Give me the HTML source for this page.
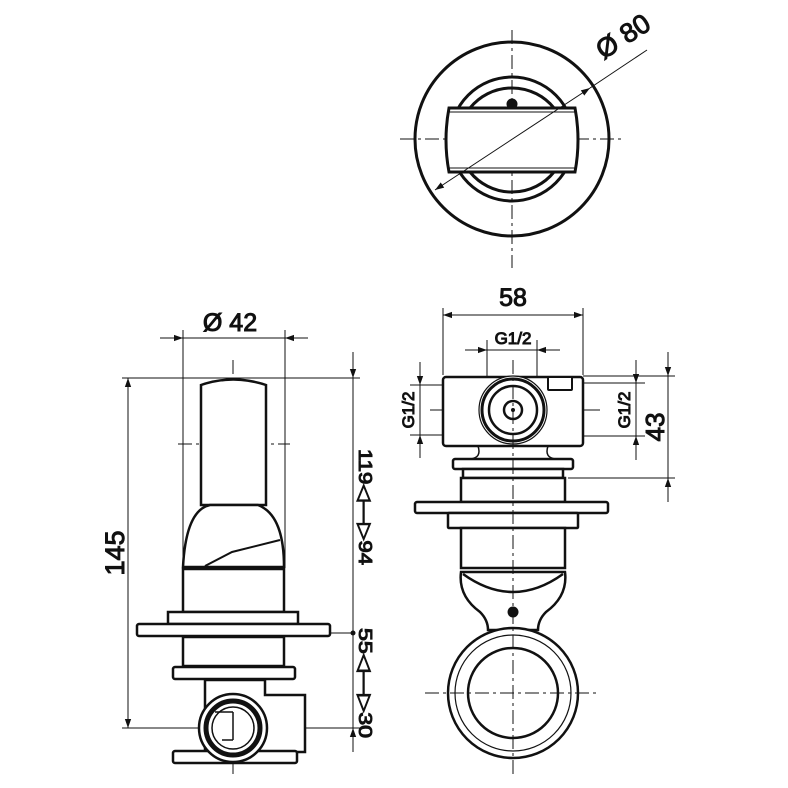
<!DOCTYPE html>
<html><head><meta charset="utf-8"><style>
html,body{margin:0;padding:0;background:#fff}
svg{display:block}
text{font-family:"Liberation Sans",sans-serif;fill:#111;font-weight:normal}
</style></head><body>
<svg width="788" height="788" viewBox="0 0 788 788" xmlns="http://www.w3.org/2000/svg">
<defs>
<marker id="a" viewBox="0 0 10 10" refX="10" refY="5" markerWidth="9" markerHeight="9" orient="auto-start-reverse" markerUnits="userSpaceOnUse"><path d="M0,1.5 L10,5 L0,8.5 z" fill="#111"/></marker>
</defs>
<g fill="none" stroke="#111">
<!-- ===== TOP VIEW ===== -->
<g stroke-width="1" stroke-dasharray="14,4,3,4">
<line x1="512" y1="30" x2="512" y2="268"/>
<line x1="400" y1="139" x2="625" y2="139"/>
</g>
<circle cx="512" cy="139" r="97" stroke-width="3"/>
<circle cx="512" cy="139" r="62" stroke-width="3"/>
<path d="M470,108 A54,54 0 0 1 554,108" stroke-width="3"/>
<path d="M470,172 A54,54 0 0 0 554,172" stroke-width="3"/>
<circle cx="512" cy="104" r="5" fill="#111"/>
<path d="M449,108 L575,108 Q581,140 575,172 L449,172 Q443,140 449,108 Z" fill="#fff" stroke-width="3"/>
<line x1="449" y1="112" x2="575" y2="112" stroke-width="1"/>
<line x1="449" y1="168" x2="575" y2="168" stroke-width="1"/>
<line x1="435" y1="190" x2="590" y2="88" stroke-width="1" marker-start="url(#a)" marker-end="url(#a)"/>
<line x1="590" y1="88" x2="647" y2="50" stroke-width="1"/>
<text x="628" y="44" font-size="27" transform="rotate(-33 628 44)" text-anchor="middle">Ø 80</text>

<!-- ===== LEFT VIEW ===== -->
<g stroke-width="1" stroke-dasharray="14,4,3,4">
<line x1="233" y1="360" x2="233" y2="775"/>
<line x1="178" y1="444" x2="290" y2="444"/>
<line x1="185" y1="728" x2="290" y2="728"/>
</g>
<g stroke-width="1">
<line x1="183" y1="330" x2="183" y2="568"/>
<line x1="285" y1="330" x2="285" y2="568"/>
<line x1="160" y1="338" x2="183" y2="338" marker-end="url(#a)"/>
<line x1="183" y1="338" x2="285" y2="338"/>
<line x1="308" y1="338" x2="285" y2="338" marker-end="url(#a)"/>
<line x1="122" y1="378" x2="360" y2="378"/>
<line x1="122" y1="728" x2="200" y2="728"/>
<line x1="270" y1="728" x2="360" y2="728"/>
<line x1="128" y1="378" x2="128" y2="728" marker-start="url(#a)" marker-end="url(#a)"/>
<line x1="353" y1="352" x2="353" y2="378" marker-end="url(#a)"/>
<line x1="353" y1="378" x2="353" y2="728"/>
<line x1="353" y1="752" x2="353" y2="728" marker-end="url(#a)"/>
<line x1="330" y1="633" x2="353" y2="633"/>
</g>
<circle cx="353" cy="633" r="2.5" fill="#111" stroke="none"/>
<text font-size="25" transform="translate(230,331)" text-anchor="middle">Ø 42</text>
<text font-size="27" transform="translate(124,553) rotate(-90)" text-anchor="middle">145</text>
<text font-size="18" transform="translate(359,507) rotate(90)" text-anchor="middle" textLength="116" lengthAdjust="spacingAndGlyphs">119◁—▷94</text>
<text font-size="18" transform="translate(359,683) rotate(90)" text-anchor="middle" textLength="110" lengthAdjust="spacingAndGlyphs">55◁—▷30</text>
<g stroke-width="2.5" fill="#fff">
<path d="M201,505 L201,385 Q233,374 266,385 L266,505 Z"/>
<path d="M183,567 Q186,510 210,505 L258,505 Q284,515 284,567 Z"/>
<path d="M205,566 L232,552 L280,540" fill="none" stroke-width="2"/>
<rect x="183" y="569" width="101" height="43"/>
<rect x="168" y="612" width="130" height="12"/>
<rect x="137" y="624" width="193" height="12" rx="2"/>
<rect x="183" y="637" width="101" height="29"/>
<rect x="173" y="667" width="122" height="12" rx="2"/>
<path d="M205,680 L205,752 L305,752 L305,695 L265,695 L265,680 Z"/>
<rect x="173" y="751" width="124" height="12" rx="2"/>
<circle cx="233" cy="728" r="34"/>
<circle cx="233" cy="728" r="27" stroke-width="5"/>
<circle cx="233" cy="728" r="21" stroke-width="1.5"/>
</g>
<line x1="215" y1="712" x2="233" y2="712" stroke-width="1.5"/>
<line x1="233" y1="712" x2="233" y2="740" stroke-width="1.5"/>
<line x1="222" y1="740" x2="233" y2="740" stroke-width="1.5"/>

<!-- ===== RIGHT VIEW ===== -->
<g stroke-width="1">
<line x1="443" y1="308" x2="443" y2="375"/>
<line x1="583" y1="308" x2="583" y2="375"/>
<line x1="443" y1="315" x2="583" y2="315" marker-start="url(#a)" marker-end="url(#a)"/>
<line x1="487" y1="340" x2="487" y2="380"/>
<line x1="537" y1="340" x2="537" y2="380"/>
<line x1="465" y1="350" x2="487" y2="350" marker-end="url(#a)"/>
<line x1="487" y1="350" x2="537" y2="350"/>
<line x1="560" y1="350" x2="537" y2="350" marker-end="url(#a)"/>
<line x1="410" y1="385" x2="450" y2="385"/>
<line x1="410" y1="435" x2="450" y2="435"/>
<line x1="420" y1="362" x2="420" y2="385" marker-end="url(#a)"/>
<line x1="420" y1="385" x2="420" y2="435"/>
<line x1="420" y1="458" x2="420" y2="435" marker-end="url(#a)"/>
<line x1="583" y1="383" x2="645" y2="383"/>
<line x1="583" y1="436" x2="645" y2="436"/>
<line x1="636" y1="360" x2="636" y2="383" marker-end="url(#a)"/>
<line x1="636" y1="383" x2="636" y2="436"/>
<line x1="636" y1="460" x2="636" y2="436" marker-end="url(#a)"/>
<line x1="583" y1="376" x2="675" y2="376"/>
<line x1="568" y1="478" x2="675" y2="478"/>
<line x1="668" y1="352" x2="668" y2="376" marker-end="url(#a)"/>
<line x1="668" y1="376" x2="668" y2="478"/>
<line x1="668" y1="502" x2="668" y2="478" marker-end="url(#a)"/>
<line x1="430" y1="410" x2="600" y2="410"/>
</g>
<text x="513" y="306" font-size="25" text-anchor="middle">58</text>
<text x="513" y="344" font-size="17" text-anchor="middle">G1/2</text>
<text font-size="17" transform="translate(414,410) rotate(-90)" text-anchor="middle">G1/2</text>
<text font-size="17" transform="translate(630,410) rotate(-90)" text-anchor="middle">G1/2</text>
<text font-size="26" transform="translate(664,427) rotate(-90)" text-anchor="middle">43</text>
<g stroke-width="2.5" fill="#fff">
<path d="M478,446 Q482,458 470,459 L556,459 Q544,458 548,446 Z" stroke-width="1.5"/>
<rect x="443" y="377" width="140" height="69" rx="3"/>
<rect x="548" y="377" width="24" height="13" rx="1" stroke-width="2"/>
<circle cx="513" cy="410" r="34" stroke-width="1.2"/>
<circle cx="513" cy="410" r="31" stroke-width="3"/>
<circle cx="513" cy="410" r="24"/>
<circle cx="513" cy="410" r="9"/>
<rect x="453" y="459" width="120" height="10" rx="2"/>
<rect x="463" y="469" width="100" height="9"/>
<rect x="461" y="478" width="104" height="24"/>
<rect x="415" y="502" width="193" height="11" rx="2"/>
<rect x="448" y="513" width="130" height="15" rx="1"/>
<rect x="461" y="528" width="104" height="40"/>
<path d="M461,572 Q458,596 480,612 Q488,620 488,630 L538,630 Q538,620 546,612 Q568,596 565,572 Z"/>
<path d="M463,574 Q513,610 563,574" fill="none"/>
<circle cx="513" cy="693" r="65"/>
<circle cx="513" cy="693" r="58" stroke-width="1.2"/>
<circle cx="513" cy="693" r="45"/>
</g>
<circle cx="513" cy="612" r="5.5" fill="#111" stroke="none"/>
<line x1="513" y1="360" x2="513" y2="775" stroke-width="1" stroke-dasharray="14,4,3,4"/>
<line x1="425" y1="693" x2="600" y2="693" stroke-width="1" stroke-dasharray="14,4,3,4"/>
<circle cx="513" cy="410" r="2" fill="#111" stroke="none"/>
</g>
</svg>
</body></html>
